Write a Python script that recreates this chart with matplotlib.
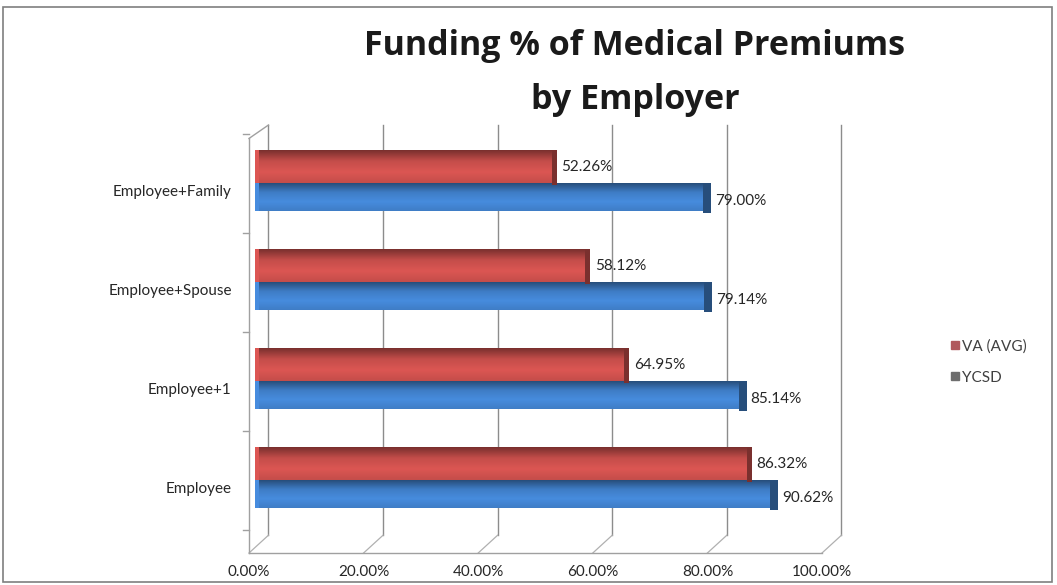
import numpy as np
import matplotlib.pyplot as plt
from matplotlib.colors import LinearSegmentedColormap, to_rgb
from matplotlib.lines import Line2D
from matplotlib.patches import Rectangle

categories = ["Employee", "Employee+1", "Employee+Spouse", "Employee+Family"]
va_avg = [86.32, 64.95, 58.12, 52.26]
ycsd = [90.62, 85.14, 79.14, 79.00]
series_names = ["VA (AVG)", "YCSD"]
xticks = [0, 20, 40, 60, 80, 100]

plt.rcParams['font.family'] = ['Lato', 'DejaVu Sans']

RED = '#c44d4a'
BLUE = '#3f7dc6'
TXT = '#262626'
GRID = '#8c8c8c'

fig = plt.figure(figsize=(10.57, 5.85), dpi=100)
W, H = 1057, 585
# axes placed so x=0..100 spans the front floor edge
ax = fig.add_axes([249 / W, (H - 553) / H, 573 / W, (553 - 125) / H])
ax.set_xlim(0, 100)
ax.set_ylim(-0.737, 3.586)
ax.axis('off')

# depth offset of the back wall (data units); bars sit part way back
dx, dy = 3.4, 0.18
bx = 1.0
floor = -0.737

# back wall gridlines + floor diagonals
for t in xticks:
    ax.plot([t + dx, t + dx], [floor + dy, 3.586], color=GRID, lw=1.0, zorder=1, clip_on=False)
    ax.plot([t, t + dx], [floor, floor + dy], color='#b0b0b0', lw=0.9, zorder=1, clip_on=False)
    ax.text(t, floor - 0.19, f"{t:.2f}%", ha='center', va='center', fontsize=11, color=TXT)
# front floor edge and left wall
ax.plot([0, 100], [floor, floor], color='#a0a0a0', lw=1.0, clip_on=False, zorder=1)
ax.plot([0, 0], [floor, 3.45], color='#a0a0a0', lw=1.0, clip_on=False, zorder=1)
ax.plot([0, dx], [3.45, 3.586], color='#a0a0a0', lw=1.0, clip_on=False, zorder=1)
for b in np.arange(-0.5, 3.6, 1.0):
    ax.plot([-1.0, 0], [b, b], color='#a0a0a0', lw=1.0, clip_on=False, zorder=1)


def shaded_bar(x, y0, h, base, cap_w):
    r, g, b = to_rgb(base)
    dark = (r * 0.62, g * 0.62, b * 0.62)
    light = tuple(min(1, c * 1.12) for c in (r, g, b))
    cmap = LinearSegmentedColormap.from_list('s', [base, light, base, dark], N=64)
    grad = np.linspace(0, 1, 64).reshape(-1, 1)
    ax.imshow(grad, cmap=cmap, extent=(bx + 0.6, bx + x, y0, y0 + h), aspect='auto',
              origin='lower', zorder=3, interpolation='bilinear')
    # lighter left end and darker right cap
    ax.add_patch(Rectangle((bx, y0), 0.8, h, color=light, zorder=3, lw=0))
    ax.add_patch(Rectangle((bx + x - cap_w / 2, y0 - 0.02), cap_w, h + 0.02, color=dark, zorder=4, lw=0))


y = np.arange(len(categories))
for i in y:
    shaded_bar(ycsd[i], i - 0.28, 0.28, BLUE, 1.4)
    shaded_bar(va_avg[i], i, 0.33, RED, 0.9)
    ax.text(bx + va_avg[i] + 1.2, i + 0.16, f"{va_avg[i]:.2f}%", ha='left', va='center',
            fontsize=11, color=TXT, zorder=5)
    ax.text(bx + ycsd[i] + 1.4, i - 0.18, f"{ycsd[i]:.2f}%", ha='left', va='center',
            fontsize=11, color=TXT, zorder=5)
    ax.text(-3.0, i - 0.09, categories[i], ha='right', va='center',
            fontsize=11, color=TXT)

ax.set_ylim(-0.737, 3.586)
ax.set_xlim(0, 100)

title_font = ['Open Sans', 'DejaVu Sans']
fig.text(635 / W, 1 - 46 / H, "Funding % of Medical Premiums", ha='center', va='center',
         fontsize=24.5, fontweight='bold', color='#1a1a1a', family=title_font)
fig.text(635 / W, 1 - 100 / H, "by Employer", ha='center', va='center',
         fontsize=24.5, fontweight='bold', color='#1a1a1a', family=title_font)

handles = [Line2D([], [], marker='s', ls='', color='#b0585c', markersize=6),
           Line2D([], [], marker='s', ls='', color='#6e6e6e', markersize=6)]
fig.legend(handles, series_names, loc='center left', bbox_to_anchor=(935 / W, 1 - 362 / H),
           frameon=False, fontsize=11, handletextpad=0.1, labelspacing=1.1,
           labelcolor='#404040', handlelength=0.8)

fig.patches.append(Rectangle((3 / W, 3 / H), 1049 / W, 575 / H, transform=fig.transFigure,
                             fill=False, ec='#7f7f7f', lw=1.2))

fig.savefig('out.png', dpi=100)
